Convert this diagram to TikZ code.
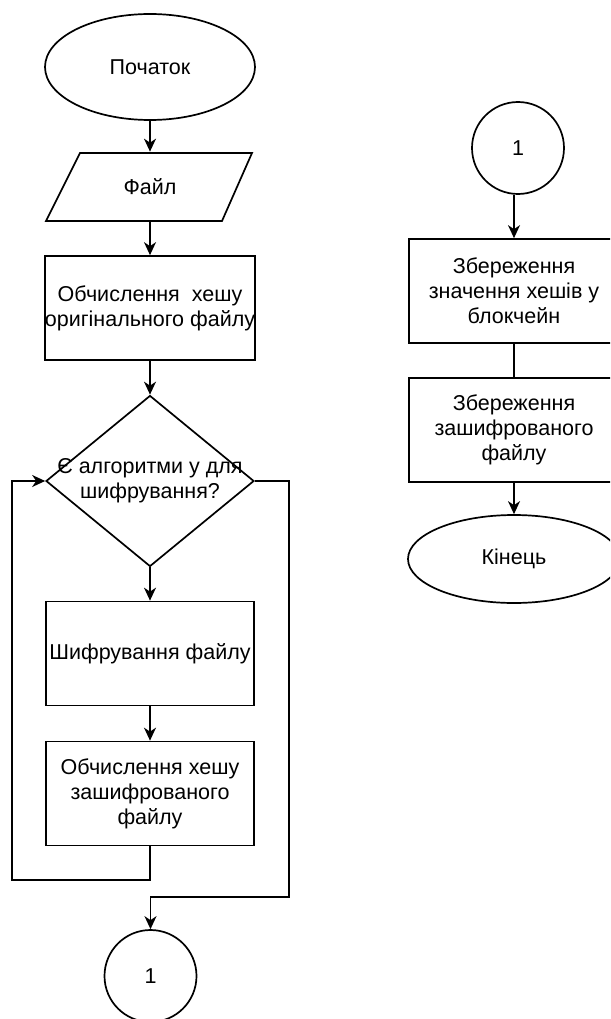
\documentclass[tikz,border=0pt]{standalone}
\usepackage{fontspec}
\setmainfont{Liberation Sans}
\usetikzlibrary{shapes.geometric,arrows.meta}
\begin{document}
\begin{tikzpicture}[x=1pt,y=-1pt, line width=1.7pt,
  every node/.style={font=\fontsize{21.5}{25}\selectfont, align=center},
  proc/.style={draw, rectangle, minimum width=208, minimum height=104, inner sep=0},
  term/.style={draw, ellipse, inner sep=0},
  conn/.style={draw, circle, minimum size=92, inner sep=0},
  arr/.style={-{Stealth[length=13pt,width=12pt,inset=4pt]}}]
\useasboundingbox (0,0) rectangle (610,1019);
\clip (0,0) rectangle (610,1019);
% left column
\node[term, minimum width=210, minimum height=106] (start) at (150,67) {Початок};
\node[minimum width=176, minimum height=69, inner sep=0] (file) at (150,187) {Файл};
\draw (80,153) -- (252,153) -- (222,221) -- (46,221) -- cycle;
\node[proc] (hash1) at (150,308) {Обчислення\ \ хешу\\оригінального файлу};
\node[draw, diamond, minimum width=208, minimum height=171, inner sep=0] (dec) at (150,481) {};
\node at (dec) {Є алгоритми у для\\шифрування?};
\node[proc] (enc) at (150,653.5) {Шифрування файлу};
\node[proc] (hash2) at (150,793.5) {Обчислення хешу\\зашифрованого\\файлу};
\node[conn] (c1) at (150.5,976) {1};
\coordinate (lb) at (12,880);
\coordinate (rb) at (289,897);
\draw[arr] (start.south) -- (file.north);
\draw[arr] (file.south) -- (hash1.north);
\draw[arr] (hash1.south) -- (dec.north);
\draw[arr] (dec.south) -- (enc.north);
\draw[arr] (enc.south) -- (hash2.north);
\draw[arr] (hash2.south) |- (lb) |- (dec.west);
\draw[arr] (dec.east) -| (rb) -| (c1.north);
% right column
\node[conn] (c2) at (518,148) {1};
\node[proc, minimum width=210] (save1) at (514,291) {Збереження\\значення хешів у\\блокчейн};
\node[proc, minimum width=210] (save2) at (514,430) {Збереження\\зашифрованого\\файлу};
\node[term, minimum width=212, minimum height=88] (end) at (514,559) {Кінець};
\draw[arr] (c2.south -| save1.north) -- (save1.north);
\draw (save1.south) -- (save2.north);
\draw[arr] (save2.south) -- (end.north);
\end{tikzpicture}
\end{document}
